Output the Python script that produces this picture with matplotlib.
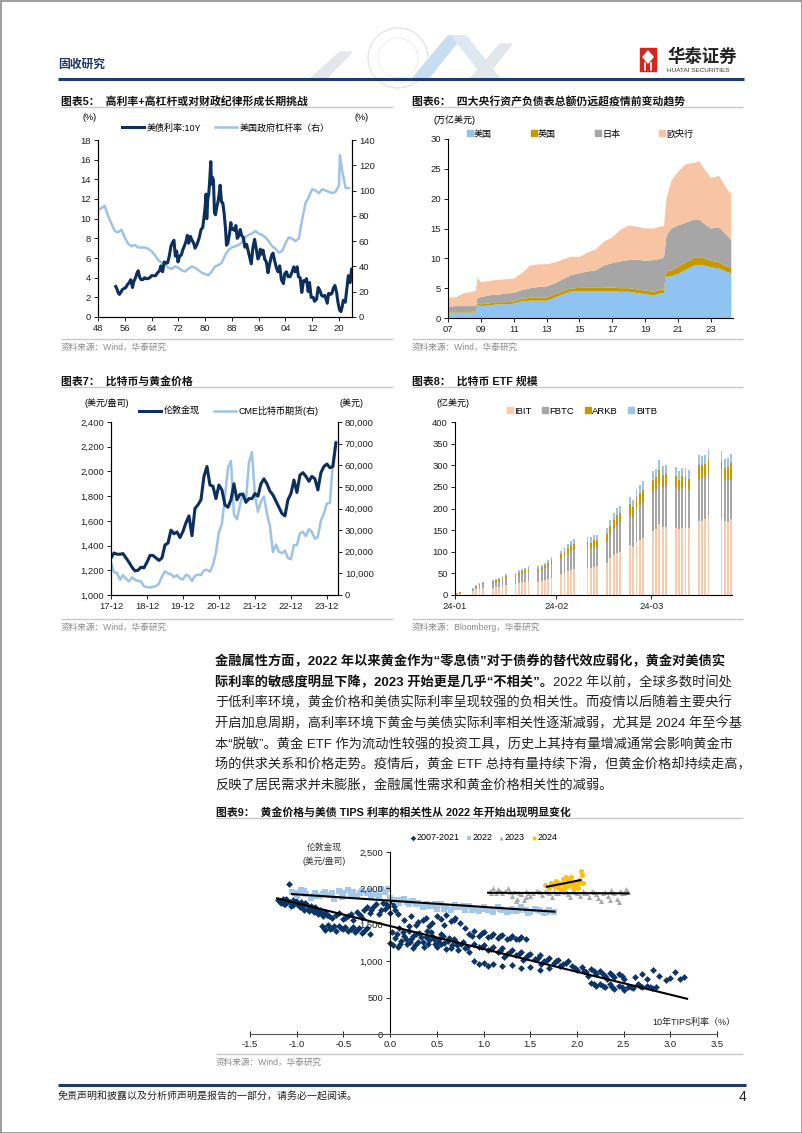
import numpy as np
import matplotlib
matplotlib.use('Agg')
import matplotlib.pyplot as plt
from matplotlib.lines import Line2D
from matplotlib.patches import Rectangle, Polygon, Circle
from matplotlib.ticker import FuncFormatter

plt.rcParams['font.family'] = ['Liberation Sans', 'Noto Sans CJK SC', 'DejaVu Sans']
plt.rcParams['axes.linewidth'] = 0.8

# ---------------- data ----------------
# chart 5: US 10Y yield (%) and US government leverage (%)
yield_year = [1953.3, 1953.6, 1954.0, 1954.4, 1954.8, 1955.3, 1955.8, 1956.3, 1956.8, 1957.3,
              1957.8, 1958.3, 1958.7, 1959.2, 1959.7, 1960.0, 1960.5, 1960.9, 1961.4, 1961.9,
              1962.4, 1962.9, 1963.5, 1964.0, 1964.6, 1965.2, 1965.8, 1966.4, 1966.8, 1967.3,
              1967.8, 1968.3, 1968.8, 1969.3, 1969.8, 1970.3, 1970.7, 1971.1, 1971.5, 1971.9,
              1972.4, 1972.9, 1973.4, 1973.8, 1974.3, 1974.7, 1975.1, 1975.6, 1976.1, 1976.6,
              1977.0, 1977.6, 1978.2, 1978.8, 1979.3, 1979.8, 1980.1, 1980.3, 1980.5, 1980.8,
              1981.1, 1981.4, 1981.7, 1981.9, 1982.2, 1982.5, 1982.8, 1983.1, 1983.5, 1983.9,
              1984.2, 1984.5, 1984.9, 1985.3, 1985.7, 1986.1, 1986.4, 1986.8, 1987.3, 1987.7,
              1987.9, 1988.4, 1988.8, 1989.2, 1989.6, 1990.0, 1990.5, 1990.9, 1991.4, 1991.9,
              1992.4, 1992.9, 1993.4, 1993.8, 1994.3, 1994.8, 1995.3, 1995.8, 1996.2, 1996.5,
              1996.9, 1997.3, 1997.8, 1998.3, 1998.8, 1999.3, 1999.9, 2000.3, 2000.8, 2001.3,
              2001.8, 2002.3, 2002.8, 2003.4, 2003.8, 2004.3, 2004.8, 2005.4, 2005.9, 2006.5,
              2006.9, 2007.5, 2007.9, 2008.4, 2008.9, 2009.4, 2009.9, 2010.3, 2010.8, 2011.2,
              2011.7, 2012.3, 2012.7, 2013.3, 2013.8, 2014.3, 2014.8, 2015.3, 2015.8, 2016.5,
              2016.9, 2017.5, 2017.9, 2018.3, 2018.8, 2019.3, 2019.7, 2020.2, 2020.6, 2021.0,
              2021.3, 2021.9, 2022.4, 2022.8, 2023.3, 2023.8, 2024.0]
yield_10y = [3.1, 2.9, 2.5, 2.3, 2.5, 2.8, 2.9, 3.0, 3.3, 3.5,
             3.8, 3.0, 3.6, 4.0, 4.5, 4.7, 4.0, 3.8, 3.8, 4.0,
             3.9, 3.9, 4.0, 4.2, 4.2, 4.2, 4.5, 4.7, 5.2, 4.6,
             5.6, 5.5, 5.5, 6.2, 7.2, 7.6, 7.8, 6.2, 6.7, 5.6,
             6.2, 6.3, 6.9, 7.2, 7.7, 8.3, 7.5, 8.2, 7.8, 7.5,
             7.0, 7.4, 8.0, 8.9, 9.1, 10.5, 11.5, 12.5, 10.0, 12.0,
             12.5, 14.0, 15.8, 13.5, 14.2, 13.9, 10.6, 10.4, 11.2, 11.8,
             12.5, 13.4, 11.7, 11.6, 10.5, 9.0, 7.3, 7.5, 8.5, 9.6,
             8.9, 9.0, 8.8, 9.3, 8.0, 8.2, 8.9, 8.3, 8.1, 7.1,
             7.4, 6.7, 6.0, 5.4, 7.1, 7.9, 6.9, 5.9, 6.2, 6.9,
             6.4, 6.8, 5.9, 5.6, 4.5, 5.4, 6.3, 6.5, 5.7, 5.0,
             4.6, 5.2, 3.8, 3.4, 4.4, 4.6, 4.1, 4.1, 4.5, 5.1,
             4.6, 5.1, 4.1, 4.0, 2.5, 3.7, 3.6, 3.9, 2.6, 3.5,
             2.0, 2.0, 1.6, 1.8, 3.0, 2.7, 2.2, 2.1, 2.2, 1.4,
             2.4, 2.3, 2.4, 2.9, 3.2, 2.5, 1.5, 0.7, 0.55, 1.1,
             1.7, 1.5, 3.0, 4.2, 3.5, 4.9, 4.1]
lev_year = [1948, 1949, 1950, 1951, 1952, 1953, 1954, 1955, 1956, 1957, 1958, 1959, 1960,
            1961, 1962, 1963, 1964, 1965, 1966, 1967, 1968, 1969, 1970, 1971, 1972, 1973,
            1974, 1975, 1976, 1977, 1978, 1979, 1980, 1981, 1982, 1983, 1984, 1985, 1986,
            1987, 1988, 1989, 1990, 1991, 1992, 1993, 1994, 1995, 1996, 1997, 1998, 1999,
            2000, 2001, 2002, 2003, 2004, 2005, 2006, 2007, 2008, 2009, 2010, 2011, 2012,
            2013, 2014, 2015, 2016, 2017, 2018, 2019, 2020, 2020.3, 2021, 2022, 2023]
lev_ratio = [85, 86, 88, 80, 74, 68, 67, 69, 63, 58, 56, 57, 55,
             55, 55, 54, 52, 49, 45, 43, 42, 39, 38, 40, 39, 37,
             36, 38, 40, 39, 37, 35, 34, 33, 36, 40, 41, 43, 49,
             53, 55, 56, 57, 59, 63, 65, 66, 68, 66, 65, 63, 60,
             56, 54, 51, 52, 58, 63, 62, 60, 62, 77, 90, 95, 101,
             100, 98, 101, 100, 99, 98, 99, 104, 128, 115, 102, 102]

# chart 6: central bank balance sheets (trillion USD)
cb_year = [2007.0, 2007.5, 2008.0, 2008.5, 2008.7, 2008.8, 2009.0, 2009.5, 2010.0, 2010.5,
           2011.0, 2011.5, 2012.0, 2012.5, 2013.0, 2013.5, 2014.0, 2014.5, 2015.0, 2015.5,
           2016.0, 2016.5, 2017.0, 2017.5, 2018.0, 2018.5, 2019.0, 2019.5, 2019.9, 2020.15,
           2020.3, 2020.6, 2021.0, 2021.5, 2022.0, 2022.3, 2022.6, 2023.0, 2023.5, 2024.0, 2024.25]
cb_us = [0.9, 0.9, 0.9, 0.9, 0.95, 2.2, 2.0, 2.1, 2.3, 2.3,
         2.4, 2.8, 2.9, 2.9, 2.9, 3.4, 4.0, 4.4, 4.5, 4.5,
         4.5, 4.5, 4.5, 4.4, 4.4, 4.2, 4.0, 3.8, 4.1, 4.2,
         6.9, 7.0, 7.4, 8.1, 8.8, 8.9, 8.8, 8.5, 8.3, 7.7, 7.5]
cb_uk = [0.1, 0.1, 0.1, 0.12, 0.15, 0.25, 0.3, 0.35, 0.35, 0.35,
         0.35, 0.4, 0.5, 0.55, 0.55, 0.55, 0.55, 0.55, 0.55, 0.55,
         0.55, 0.55, 0.6, 0.6, 0.6, 0.6, 0.6, 0.6, 0.6, 0.6,
         0.9, 1.0, 1.2, 1.3, 1.3, 1.3, 1.2, 1.1, 1.0, 0.9, 0.9]
cb_jp = [0.9, 1.0, 1.0, 0.98, 0.9, 0.95, 1.2, 1.35, 1.25, 1.45,
         1.45, 1.5, 1.6, 1.75, 1.85, 1.85, 1.95, 2.25, 2.45, 2.75,
         2.95, 3.75, 4.1, 4.5, 4.7, 5.0, 5.0, 5.3, 5.2, 5.4,
         6.0, 7.0, 6.9, 6.6, 6.4, 6.3, 5.8, 5.4, 5.9, 5.2, 4.6]
cb_ecb = [1.5, 1.5, 2.2, 2.4, 2.6, 3.4, 2.5, 2.4, 2.5, 2.4,
          2.4, 2.8, 3.8, 3.8, 3.7, 3.5, 3.3, 3.1, 2.7, 3.2,
          3.5, 4.0, 4.3, 5.3, 5.8, 5.5, 5.4, 5.3, 5.4, 5.2,
          6.2, 8.0, 9.0, 9.8, 9.5, 9.8, 9.2, 8.5, 8.6, 7.7, 7.8]

# chart 7: monthly, 2017-12 .. 2024-03
gold_month = [1300, 1340, 1330, 1330, 1335, 1300, 1265, 1225, 1195, 1200, 1225, 1220,
              1265, 1320, 1320, 1300, 1280, 1300, 1405, 1420, 1525, 1495, 1510, 1465,
              1515, 1585, 1640, 1480, 1700, 1730, 1770, 1960, 2040, 1890, 1880, 1780,
              1890, 1850, 1730, 1710, 1770, 1900, 1770, 1815, 1815, 1750, 1780, 1780,
              1820, 1800, 1900, 1940, 1900, 1840, 1810, 1760, 1710, 1660, 1640, 1770,
              1820, 1930, 1830, 1970, 1990, 1960, 1920, 1960, 1940, 1850, 1990, 2040,
              2060, 2030, 2040, 2230]
btc_month = [15000, 10500, 10300, 7000, 9200, 7500, 6300, 8200, 7000, 6600, 6300, 4000,
             3700, 3450, 3800, 4100, 5300, 8600, 11000, 10000, 9600, 8300, 9200, 7600,
             7200, 9400, 8700, 6400, 8800, 9500, 9200, 11400, 11700, 10800, 13800, 19700,
             29000, 33000, 45500, 58800, 62000, 37300, 35000, 41500, 47100, 43800, 61300, 66000,
             46300, 38500, 43200, 45500, 37700, 31800, 19900, 23300, 20000, 19400, 20500, 17100,
             16500, 23100, 23100, 28500, 29200, 27200, 30500, 29200, 26000, 27000, 34500, 37700,
             42300, 42600, 61200, 71000]
gold_ticks = ['17-12', '18-12', '19-12', '20-12', '21-12', '22-12', '23-12']

# chart 8: spot bitcoin ETF AUM (100m USD)
etf_dates = ['2024-01-11', '2024-01-12',
             '2024-01-16', '2024-01-17', '2024-01-18', '2024-01-19',
             '2024-01-22', '2024-01-23', '2024-01-24', '2024-01-25', '2024-01-26',
             '2024-01-29', '2024-01-30', '2024-01-31', '2024-02-01', '2024-02-02',
             '2024-02-05', '2024-02-06', '2024-02-07', '2024-02-08', '2024-02-09',
             '2024-02-12', '2024-02-13', '2024-02-14', '2024-02-15', '2024-02-16',
             '2024-02-20', '2024-02-21', '2024-02-22', '2024-02-23',
             '2024-02-26', '2024-02-27', '2024-02-28', '2024-02-29', '2024-03-01',
             '2024-03-04', '2024-03-05', '2024-03-06', '2024-03-07', '2024-03-08',
             '2024-03-11', '2024-03-12', '2024-03-13', '2024-03-14', '2024-03-15',
             '2024-03-18', '2024-03-19', '2024-03-20', '2024-03-21', '2024-03-22',
             '2024-03-25', '2024-03-26', '2024-03-27', '2024-03-28',
             '2024-04-01', '2024-04-02', '2024-04-03', '2024-04-04']
ibit = [2, 3, 10, 13, 15, 17, 17, 18, 19, 20, 22, 25, 27, 29, 30, 32,
        31, 33, 35, 37, 39, 48, 52, 56, 58, 59, 62, 63, 65, 66,
        75, 85, 92, 98, 100, 115, 112, 122, 128, 131, 148, 152, 165, 158, 158,
        155, 152, 156, 156, 154, 172, 172, 175, 180, 178, 170, 168, 175]
fbtc = [1.5, 2, 4, 6, 8, 9, 12, 13, 14, 16, 17, 17, 19, 21, 22, 23,
        24, 25, 27, 29, 33, 35, 38, 40, 43, 45, 45, 44, 47, 46,
        50, 55, 62, 65, 68, 70, 68, 78, 80, 83, 92, 92, 95, 92, 94,
        95, 90, 92, 92, 90, 95, 98, 97, 100, 100, 95, 97, 92]
arkb = [0.5, 0.8, 1, 2, 2, 2, 3, 4, 4, 4, 5, 5, 6, 6, 6, 6,
        6, 7, 7, 8, 9, 11, 12, 13, 14, 14, 15, 14, 15, 15,
        17, 19, 20, 22, 22, 25, 24, 27, 28, 29, 27, 28, 29, 27, 27,
        26, 25, 26, 26, 25, 34, 30, 30, 35, 32, 28, 30, 38]
bitb = [1, 1.2, 1, 2, 2, 2, 3, 3, 3, 4, 4, 4, 5, 5, 5, 5,
        5, 5, 6, 6, 7, 8, 9, 10, 11, 11, 12, 12, 12, 12,
        13, 14, 15, 15, 15, 17, 16, 18, 19, 20, 20, 20, 22, 21, 21,
        21, 20, 20, 20, 20, 22, 22, 22, 23, 22, 22, 22, 22]

# chart 9: gold price (USD/oz) vs 10Y TIPS yield (%)
pts_0721 = [
    (-1.20, 1840), (-1.17, 1800), (-1.15, 1860), (-1.12, 1780), (-1.10, 1820), (-1.08, 2060), (-1.06, 1760),
    (-1.03, 1850), (-1.00, 1790), (-0.97, 1740), (-0.95, 1820), (-0.92, 1700), (-0.90, 1780), (-0.88, 1720),
    (-0.85, 1760), (-0.82, 1680), (-0.80, 1740), (-0.77, 1650), (-0.75, 1700), (-0.72, 1620),
    (-1.18, 1820), (-1.14, 1790), (-1.11, 1850), (-1.07, 1810), (-1.04, 1770), (-1.01, 1830), (-0.98, 1780),
    (-0.94, 1750), (-0.91, 1800), (-0.87, 1690), (-0.84, 1730), (-0.81, 1710), (-0.78, 1690), (-0.74, 1660),
    (-0.70, 1680),
    (-0.73, 1480), (-0.70, 1430), (-0.66, 1500), (-0.62, 1460), (-0.58, 1420), (-0.55, 1480), (-0.50, 1440),
    (-0.45, 1410), (-0.40, 1470), (-0.35, 1430), (-0.30, 1390), (-0.25, 1450), (-0.22, 1380),
    (-0.71, 1460), (-0.64, 1440), (-0.60, 1490), (-0.53, 1450), (-0.48, 1470), (-0.42, 1440), (-0.38, 1400),
    (-0.33, 1460), (-0.28, 1420),
    (-0.68, 1640), (-0.62, 1600), (-0.55, 1660), (-0.50, 1580), (-0.45, 1620), (-0.40, 1560), (-0.35, 1680),
    (-0.30, 1600), (-0.25, 1750), (-0.20, 1700), (-0.15, 1780), (-0.12, 1650), (-0.08, 1800), (-0.05, 1720),
    (-0.02, 1760), (0.02, 1820), (0.05, 1700), (0.08, 1650),
    (-0.65, 1620), (-0.58, 1640), (-0.48, 1600), (-0.42, 1650), (-0.32, 1640), (-0.28, 1700), (-0.22, 1660),
    (-0.18, 1740), (-0.10, 1700), (-0.04, 1780), (0.00, 1660), (0.04, 1760),
    (0.00, 1250), (0.02, 1400), (0.05, 1320), (0.08, 1200), (0.10, 1450), (0.12, 1280), (0.15, 1350),
    (0.18, 1230), (0.20, 1420), (0.22, 1300), (0.25, 1180), (0.28, 1380), (0.30, 1260), (0.33, 1330),
    (0.36, 1200), (0.40, 1420), (0.42, 1290), (0.45, 1350), (0.48, 1240), (0.50, 1190), (0.52, 1310),
    (0.55, 1380), (0.58, 1250), (0.60, 1170), (0.63, 1320), (0.66, 1220), (0.70, 1280), (0.73, 1160),
    (0.76, 1240), (0.80, 1180), (0.85, 1130),
    (0.03, 1220), (0.07, 1370), (0.11, 1240), (0.14, 1400), (0.17, 1300), (0.21, 1260), (0.24, 1340),
    (0.27, 1220), (0.31, 1390), (0.35, 1270), (0.38, 1330), (0.41, 1230), (0.44, 1400), (0.47, 1300),
    (0.51, 1260), (0.54, 1230), (0.57, 1340), (0.62, 1280), (0.65, 1180), (0.68, 1300), (0.72, 1220),
    (0.78, 1260), (0.82, 1200),
    (0.15, 1560), (0.22, 1620), (0.30, 1540), (0.38, 1600), (0.45, 1520), (0.55, 1580), (0.60, 1640),
    (0.65, 1550), (0.70, 1600), (0.75, 1520), (0.20, 1480), (0.28, 1500), (0.35, 1560), (0.42, 1480),
    (0.50, 1620), (0.58, 1500), (0.68, 1570),
    (0.80, 1450), (0.85, 1380), (0.90, 1420), (0.95, 1340), (1.00, 1400), (1.05, 1330), (1.10, 1380),
    (1.15, 1320), (1.20, 1360), (1.25, 1310), (1.30, 1340), (1.35, 1300), (1.40, 1330), (1.45, 1310),
    (0.88, 1350), (0.98, 1390), (1.08, 1350), (1.18, 1340), (1.28, 1320), (1.38, 1310),
    (0.90, 1240), (0.95, 1190), (1.00, 1220), (1.05, 1150), (1.10, 1200), (1.15, 1120), (1.20, 1180),
    (1.25, 1100), (1.30, 1150), (1.35, 1080), (1.40, 1130), (1.45, 1060), (1.50, 1100), (1.55, 1030),
    (1.60, 1080), (1.65, 1000), (1.70, 1050), (1.75, 980), (1.80, 1020), (1.85, 960), (1.90, 1000),
    (0.98, 1200), (1.08, 1170), (1.18, 1140), (1.28, 1120), (1.38, 1100), (1.48, 1080), (1.58, 1050),
    (1.68, 1020), (1.78, 1000), (1.88, 980), (1.22, 1060), (1.42, 1020), (1.62, 960), (1.82, 940),
    (0.90, 1000), (0.95, 960), (1.00, 980), (1.05, 940), (1.10, 960), (1.20, 930), (1.30, 950),
    (1.40, 910), (1.50, 920), (1.60, 880), (1.70, 900),
    (1.95, 940), (2.00, 880), (2.05, 920), (2.10, 850), (2.15, 890), (2.20, 820), (2.25, 860),
    (2.30, 800), (2.35, 840), (2.40, 780), (2.45, 820), (2.50, 760),
    (1.98, 910), (2.08, 870), (2.18, 860), (2.28, 830), (2.38, 810), (2.48, 790), (2.12, 800), (2.32, 760),
    (2.15, 700), (2.20, 660), (2.25, 690), (2.30, 640), (2.35, 680), (2.40, 620), (2.45, 660),
    (2.50, 610), (2.55, 650), (2.60, 630), (2.65, 680), (2.70, 640), (2.75, 660), (2.80, 630), (2.85, 650),
    (2.18, 680), (2.28, 660), (2.38, 650), (2.48, 640), (2.58, 640), (2.68, 660), (2.78, 645),
    (2.62, 780), (2.70, 820), (2.75, 760), (2.82, 880), (2.88, 800), (2.95, 740), (3.00, 770),
    (3.05, 850), (3.10, 760), (3.15, 780)]
pts_2022 = [
    (-1.05, 1950), (-1.00, 1900), (-0.95, 1980), (-0.90, 1920), (-0.85, 1870), (-0.80, 1940), (-0.75, 1890),
    (-0.70, 1950), (-0.65, 1910), (-0.60, 1860), (-0.55, 1960), (-0.50, 1930), (-0.45, 1980), (-0.40, 1950),
    (-0.35, 1900), (-0.30, 1970), (-0.25, 1940), (-0.20, 1880), (-0.15, 1920), (-0.10, 1990), (-0.05, 1950),
    (0.00, 1870), (0.05, 1840), (0.10, 1800), (0.15, 1860), (0.20, 1780), (0.25, 1830), (0.30, 1800),
    (0.35, 1740), (0.40, 1790), (0.45, 1760), (0.50, 1720), (0.55, 1780), (0.60, 1750), (0.65, 1710),
    (0.70, 1770), (0.75, 1740), (0.80, 1700), (0.85, 1760), (0.90, 1720), (0.95, 1690), (1.00, 1750),
    (1.05, 1710), (1.10, 1680), (1.15, 1740), (1.20, 1700), (1.25, 1670), (1.30, 1720), (1.35, 1690),
    (1.40, 1740), (1.45, 1700), (1.50, 1680), (1.55, 1720), (1.60, 1690), (1.65, 1660), (1.70, 1700),
    (1.75, 1670),
    (-1.02, 1930), (-0.92, 1960), (-0.82, 1900), (-0.72, 1920), (-0.62, 1940), (-0.52, 1880), (-0.42, 1920),
    (-0.32, 1940), (-0.22, 1960), (-0.12, 1890), (-0.02, 1990), (0.08, 1840), (0.18, 1820), (0.28, 1780),
    (0.38, 1760), (0.48, 1780), (0.58, 1720), (0.68, 1740), (0.78, 1760), (0.88, 1700), (0.98, 1720),
    (1.08, 1700), (1.18, 1720), (1.28, 1690), (1.38, 1710), (1.48, 1660), (1.58, 1710), (1.68, 1680)]
pts_2023 = [
    (1.07, 1960), (1.10, 2010), (1.13, 1940), (1.16, 1990), (1.20, 1930), (1.23, 1970), (1.26, 2000),
    (1.30, 1900), (1.33, 1950), (1.36, 1860), (1.40, 1920), (1.43, 1840), (1.46, 1960), (1.50, 1900),
    (1.53, 1940), (1.56, 1970), (1.60, 1950), (1.63, 1910), (1.66, 1970), (1.70, 1940), (1.73, 1880),
    (1.76, 1960), (1.80, 1930), (1.83, 1990), (1.86, 1950), (1.90, 1920), (1.93, 1880), (1.96, 1960),
    (2.00, 1940), (2.03, 1900), (2.06, 1970), (2.10, 1930), (2.13, 1880), (2.16, 1960), (2.20, 1920),
    (2.23, 1870), (2.26, 1830), (2.30, 1950), (2.33, 1900), (2.36, 1980), (2.40, 1940), (2.43, 1850),
    (2.46, 1960), (2.50, 1930), (2.53, 1990), (2.55, 1950),
    (1.08, 1940), (1.18, 1960), (1.28, 1950), (1.38, 1940), (1.48, 1930), (1.58, 1960), (1.68, 1950),
    (1.78, 1940), (1.88, 1960), (1.98, 1950), (2.08, 1940), (2.18, 1950), (2.28, 1930), (2.38, 1950),
    (2.48, 1940), (1.45, 1880), (1.35, 1830), (2.35, 1840), (2.45, 1820)]
pts_2024 = [
    (1.66, 2040), (1.70, 2010), (1.72, 2070), (1.75, 2030), (1.78, 2100), (1.80, 2000), (1.82, 2060),
    (1.85, 2130), (1.87, 2020), (1.90, 2080), (1.92, 2050), (1.94, 2150), (1.96, 2000), (1.98, 2090),
    (2.00, 2060), (2.02, 2120), (2.04, 2240), (2.05, 2180), (2.06, 2070), (1.88, 2160), (1.93, 2110),
    (2.01, 2010), (1.76, 2060), (1.84, 1990), (1.74, 2040), (1.81, 2080), (1.86, 2050), (1.91, 2100),
    (1.97, 2040), (2.03, 2090), (1.89, 2030), (1.95, 2070)]
# linear trend lines as drawn in the source chart: (x_start, x_end), (y_start, y_end)
trend_x = {'0721': (-1.21, 3.18), '2022': (-1.05, 1.76), '2023': (1.05, 2.55), '2024': (1.68, 2.04)}
trend_y = {'0721': (1863, 484), '2022': (1922, 1680), '2023': (1940, 1932), '2024': (2023, 2114)}

paragraph = [
    ('金融属性方面，2022 年以来黄金作为“零息债”对于债券的替代效应弱化，黄金对美债实', ''),
    ('际利率的敏感度明显下降，2023 开始更是几乎“不相关”。', '2022 年以前，全球多数时间处'),
    ('', '于低利率环境，黄金价格和美债实际利率呈现较强的负相关性。而疫情以后随着主要央行'),
    ('', '开启加息周期，高利率环境下黄金与美债实际利率相关性逐渐减弱，尤其是 2024 年至今基'),
    ('', '本“脱敏”。黄金 ETF 作为流动性较强的投资工具，历史上其持有量增减通常会影响黄金市'),
    ('', '场的供求关系和价格走势。疫情后，黄金 ETF 总持有量持续下滑，但黄金价格却持续走高，'),
    ('', '反映了居民需求并未膨胀，金融属性需求和黄金价格相关性的减弱。'),
]

# ---------------- page ----------------
NAVY = '#0C2F5E'
LIGHT = '#9DC3E6'
GRID_GREY = '#C8C8C8'
SRC_GREY = '#8A8A8A'
TICK = 6.8

W, H = 802, 1133
fig = plt.figure(figsize=(W / 100, H / 100), dpi=100)
bg = fig.add_axes([0, 0, 1, 1])
bg.set_xlim(0, W)
bg.set_ylim(H, 0)
bg.axis('off')


def axes_px(l, t, r, b):
    a = fig.add_axes([l / W, 1 - b / H, (r - l) / W, (b - t) / H])
    a.patch.set_visible(False)
    return a


def hline(x0, x1, y, color, lw):
    bg.plot([x0, x1], [y, y], color=color, lw=lw, solid_capstyle='butt')


def txt(x, y, s, size, **kw):
    return bg.text(x, y, s, fontsize=size, va='center', **kw)


def thousands(v, p):
    return f'{v:,.0f}'


def style_ticks(a):
    a.tick_params(labelsize=TICK, length=3, width=0.7, pad=2, colors='#222222')


# frame and header
bg.add_patch(Rectangle((0.5, 0.5), W - 1, H - 1, fill=False, ec='#8C8C8C', lw=1.2))
bg.add_patch(Circle((398, 58), 30, fill=False, ec='#DCE1E8', lw=0.8))
bg.add_patch(Circle((398, 58), 20, fill=False, ec='#E6EAF0', lw=0.6))
bg.add_patch(Polygon([(310, 79), (340, 52), (352, 52), (326, 79)], color='#E3E6EA'))
bg.add_patch(Polygon([(412, 79), (448, 36), (462, 36), (428, 79)], color='#C9DDF0'))
bg.add_patch(Polygon([(452, 36), (466, 36), (500, 79), (486, 79)], color='#DDE8F3'))
bg.add_patch(Polygon([(470, 79), (500, 44), (512, 44), (484, 79)], color='#E3E6EA'))
txt(58, 65, '固收研究', 8.5, weight='bold', color='#1F3864')
hline(58, 744, 79, '#1F3A6E', 2.2)
bg.add_patch(Rectangle((640, 48), 16, 23, color='#D7261E'))
bg.add_patch(Polygon([(648, 51), (653, 57), (648, 63), (643, 57)], color='white'))
bg.plot([645, 645], [63, 70], color='white', lw=1.2)
bg.plot([651, 651], [63, 70], color='white', lw=1.2)
txt(667, 56, '华泰证券', 12.5, weight='bold', color='#222222')
txt(667, 71, 'HUATAI SECURITIES', 4.6, color='#333333')


def panel_title(x0, x1, y, s):
    txt(x0, y, s, 7.8, weight='bold', color='#111111')
    hline(x0, x1, y + 6, GRID_GREY, 1.0)


def source(x0, x1, y, s):
    hline(x0, x1, y - 8, GRID_GREY, 1.0)
    txt(x0, y, s, 6.2, color=SRC_GREY)


# ---------------- chart 5 ----------------
panel_title(61, 393, 101, '图表5：  高利率+高杠杆或对财政纪律形成长期挑战')
ax5 = axes_px(98, 140, 352, 317)
ax5b = ax5.twinx()
ax5b.plot(lev_year, lev_ratio, color=LIGHT, lw=1.8)
ax5.plot(yield_year, yield_10y, color=NAVY, lw=2.2)
ax5.set_zorder(ax5b.get_zorder() + 1)
ax5.patch.set_visible(False)
ax5.set_xlim(1948, 2023.9)
ax5.set_ylim(0, 18)
ax5b.set_ylim(0, 140)
ax5.set_yticks(range(0, 19, 2))
ax5b.set_yticks(range(0, 141, 20))
ax5.set_xticks(range(1948, 2021, 8))
ax5.set_xticklabels([f'{y % 100:02d}' for y in range(1948, 2021, 8)])
for a in (ax5, ax5b):
    a.spines['top'].set_visible(False)
    style_ticks(a)
txt(90, 118, '(%)', 6.5, ha='center')
txt(362, 118, '(%)', 6.5, ha='center')
ax5.legend([Line2D([], [], color=NAVY, lw=2.2), Line2D([], [], color=LIGHT, lw=1.8)],
           ['美债利率:10Y', '美国政府杠杆率（右）'], loc='center', ncol=2,
           bbox_to_anchor=(226, 128), bbox_transform=bg.transData, frameon=False,
           fontsize=6.5, handlelength=2.4, handletextpad=0.3, columnspacing=1.6)
source(61, 393, 347, '资料来源：Wind，华泰研究')

# ---------------- chart 6 ----------------
panel_title(412, 743, 101, '图表6：  四大央行资产负债表总额仍远超疫情前变动趋势')
ax6 = axes_px(448, 139, 733, 318)
cb_colors = ['#8EC3F2', '#C49A00', '#A6A6A6', '#F7C5A4']
ax6.stackplot(cb_year, cb_us, cb_uk, cb_jp, cb_ecb, colors=cb_colors, lw=0)
ax6.set_xlim(2007, 2024.35)
ax6.set_ylim(0, 30)
ax6.set_yticks(range(0, 31, 5))
ax6.set_xticks(range(2007, 2024, 2))
ax6.set_xticklabels([f'{y % 100:02d}' for y in range(2007, 2024, 2)])
ax6.spines['top'].set_visible(False)
ax6.spines['right'].set_visible(False)
style_ticks(ax6)
txt(455, 120, '(万亿美元)', 6.5, ha='center')
ax6.legend([Line2D([], [], marker='s', ls='none', color=c, markersize=4) for c in cb_colors],
           ['美国', '英国', '日本', '欧央行'], loc='center', ncol=4,
           bbox_to_anchor=(580, 134), bbox_transform=bg.transData, frameon=False,
           fontsize=6.5, handlelength=0.6, handletextpad=0.2, columnspacing=4.3)
source(412, 743, 347, '资料来源：Wind，华泰研究')

# ---------------- chart 7 ----------------
panel_title(61, 393, 381, '图表7：  比特币与黄金价格')
ax7 = axes_px(111, 422, 338, 595)
ax7b = ax7.twinx()
months = np.arange(len(gold_month))
ax7b.plot(months, btc_month, color=LIGHT, lw=1.8)
ax7.plot(months, gold_month, color=NAVY, lw=2.2)
ax7.set_zorder(ax7b.get_zorder() + 1)
ax7.patch.set_visible(False)
ax7.set_xlim(0, 75.7)
ax7.set_ylim(1000, 2400)
ax7b.set_ylim(0, 80000)
ax7.set_yticks(range(1000, 2401, 200))
ax7b.set_yticks(range(0, 80001, 10000))
ax7.yaxis.set_major_formatter(FuncFormatter(thousands))
ax7b.yaxis.set_major_formatter(FuncFormatter(thousands))
ax7.set_xticks(range(0, 73, 12))
ax7.set_xticklabels(gold_ticks)
for a in (ax7, ax7b):
    a.spines['top'].set_visible(False)
    style_ticks(a)
txt(107, 403, '(美元/盎司)', 6.5, ha='center')
txt(352, 403, '(美元)', 6.5, ha='center')
ax7.legend([Line2D([], [], color=NAVY, lw=2.2), Line2D([], [], color=LIGHT, lw=1.8)],
           ['伦敦金现', 'CME比特币期货(右)'], loc='center', ncol=2,
           bbox_to_anchor=(229, 411), bbox_transform=bg.transData, frameon=False,
           fontsize=6.5, handlelength=2.4, handletextpad=0.3, columnspacing=1.6)
source(61, 393, 627, '资料来源：Wind，华泰研究')

# ---------------- chart 8 ----------------
panel_title(412, 743, 381, '图表8：  比特币 ETF 规模')
ax8 = axes_px(455, 422, 732, 595)
days = (np.array(etf_dates, dtype='datetime64[D]') - np.datetime64('2024-01-11')).astype(int) + 0.5
etf_colors = ['#F8CBAD', '#A6A6A6', '#C49A00', '#9DC3E6']
bottom = np.zeros(len(days))
for vals, c in zip([ibit, fbtc, arkb, bitb], etf_colors):
    ax8.bar(days, vals, bottom=bottom, width=0.55, color=c, lw=0)
    bottom = bottom + np.array(vals)
ax8.set_xlim(0, 84.7)
ax8.set_ylim(0, 400)
ax8.set_yticks(range(0, 401, 50))
ax8.set_xticks([0, 31, 60])
ax8.set_xticklabels(['24-01', '24-02', '24-03'])
ax8.spines['top'].set_visible(False)
ax8.spines['right'].set_visible(False)
style_ticks(ax8)
txt(453, 403, '(亿美元)', 6.5, ha='center')
ax8.legend([Line2D([], [], marker='s', ls='none', color=c, markersize=4) for c in etf_colors],
           ['IBIT', 'FBTC', 'ARKB', 'BITB'], loc='center', ncol=4,
           bbox_to_anchor=(582, 411), bbox_transform=bg.transData, frameon=False,
           fontsize=6.8, handlelength=0.6, handletextpad=0.2, columnspacing=1.1)
source(412, 743, 627, '资料来源：Bloomberg，华泰研究')

# ---------------- paragraph ----------------
renderer = fig.canvas.get_renderer()
for i, (bold_part, plain_part) in enumerate(paragraph):
    y = 662 + 20.5 * i
    x = 215
    if bold_part:
        t = txt(x, y, bold_part, 9.5, weight='bold', color='#111111')
        x = t.get_window_extent(renderer).x1
    if plain_part:
        txt(x, y, plain_part, 9.5, color='#222222')

# ---------------- chart 9 ----------------
panel_title(216, 743, 812, '图表9：  黄金价格与美债 TIPS 利率的相关性从 2022 年开始出现明显变化')
ax9 = axes_px(250, 852, 717, 1034)
series9 = [(pts_0721, 'D', 12, '#0D3466', '2007-2021', '0721'),
           (pts_2022, 's', 13, '#A4C8EC', '2022', '2022'),
           (pts_2023, '^', 13, '#A9A9A9', '2023', '2023'),
           (pts_2024, 'o', 13, '#FFC000', '2024', '2024')]
handles = []
for pts, mk, sz, col, lab, key in series9:
    arr = np.array(pts)
    handles.append(ax9.scatter(arr[:, 0], arr[:, 1], marker=mk, s=sz, color=col, lw=0, label=lab))
for pts, mk, sz, col, lab, key in series9:
    ax9.plot(trend_x[key], trend_y[key], color='black', lw=1.5)
ax9.set_xlim(-1.5, 3.5)
ax9.set_ylim(0, 2500)
ax9.set_xticks(np.arange(-1.5, 3.51, 0.5))
ax9.set_xticklabels([f'{v:.1f}' for v in np.arange(-1.5, 3.51, 0.5)])
ax9.set_yticks(range(0, 2501, 500))
ax9.yaxis.set_major_formatter(FuncFormatter(thousands))
ax9.spines['left'].set_position(('data', 0))
ax9.spines['top'].set_visible(False)
ax9.spines['right'].set_visible(False)
ax9.spines['bottom'].set_color('#555555')
style_ticks(ax9)
ax9.tick_params(axis='x', direction='inout', length=4)
txt(324, 848, '伦敦金现', 6.3, ha='center', color='#333333')
txt(324, 861, '(美元/盎司)', 6.3, ha='center', color='#333333')
txt(735, 1022, '10年TIPS利率（%）', 6.5, ha='right', color='#222222')
ax9.legend(handles, [s[4] for s in series9], loc='center', ncol=4,
           bbox_to_anchor=(484, 838), bbox_transform=bg.transData, frameon=False,
           fontsize=6.5, handlelength=0.6, handletextpad=0.1, columnspacing=0.7,
           markerscale=0.8)
source(216, 743, 1062, '资料来源：Wind，华泰研究')

# footer
hline(58, 746, 1085, '#1F3A6E', 2.2)
txt(58, 1097, '免责声明和披露以及分析师声明是报告的一部分，请务必一起阅读。', 7.2, color='#222222')
txt(746, 1097, '4', 10, ha='right', color='#222222')

fig.savefig('out.png', dpi=100)
